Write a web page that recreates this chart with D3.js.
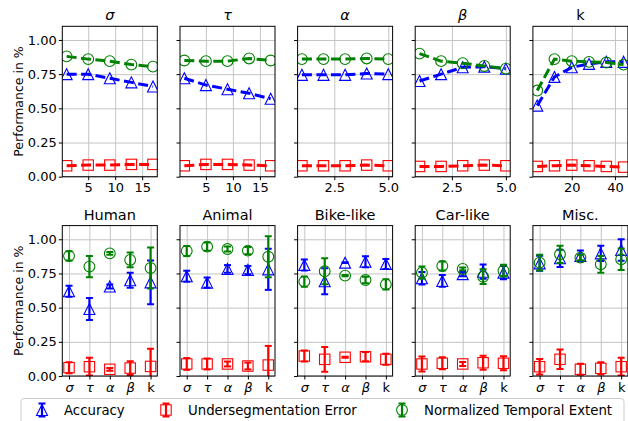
<!DOCTYPE html>
<meta charset="utf-8">
<style>
body { margin: 0; background: #fff; }
svg text { font-family: "DejaVu Sans", sans-serif; fill: #000; }
</style>
<body>
<div id="chart"></div>
<script src="https://d3js.org/d3.v7.min.js"></script>
<script>

// ---- data: top row (parameter sweeps) ----
var params = ["σ", "τ", "α", "β", "k"];

var xSigma = [1, 5, 9, 13, 17];
var xTau   = [1, 5, 9, 13, 17];
var xAlpha = [1, 2, 3, 4, 5];
var xBeta  = [1, 2, 3, 4, 5];
var xK     = [4, 12, 20, 28, 36, 44];

var accSigma = [0.75, 0.75, 0.72, 0.69, 0.66];
var accTau   = [0.72, 0.67, 0.64, 0.61, 0.57];
var accAlpha = [0.745, 0.745, 0.745, 0.755, 0.75];
var accBeta  = [0.70, 0.75, 0.80, 0.805, 0.79];
var accK     = [0.52, 0.73, 0.80, 0.825, 0.84, 0.84];

var usSigma = [0.08, 0.085, 0.085, 0.09, 0.09];
var usTau   = [0.08, 0.09, 0.09, 0.085, 0.08];
var usAlpha = [0.08, 0.08, 0.08, 0.085, 0.08];
var usBeta  = [0.075, 0.075, 0.08, 0.085, 0.08];
var usK     = [0.075, 0.08, 0.085, 0.08, 0.075, 0.07];

var nteSigma = [0.88, 0.86, 0.845, 0.82, 0.805];
var nteTau   = [0.85, 0.845, 0.845, 0.865, 0.85];
var nteAlpha = [0.86, 0.86, 0.86, 0.865, 0.86];
var nteBeta  = [0.90, 0.845, 0.83, 0.81, 0.79];
var nteK     = [0.63, 0.86, 0.845, 0.84, 0.835, 0.82];

var topTicks = [[5, 10, 15], [5, 10, 15], [2.5, 5.0], [2.5, 5.0], [20, 40]];

// ---- data: bottom row (per class, mean and std) ----
var groups = ["Human", "Animal", "Bike-like", "Car-like", "Misc."];

var accHuman  = [0.62, 0.49, 0.655, 0.70, 0.685];
var accAnimal = [0.73, 0.683, 0.783, 0.775, 0.78];
var accBike   = [0.812, 0.693, 0.829, 0.836, 0.819];
var accCar    = [0.715, 0.695, 0.745, 0.763, 0.756];
var accMisc   = [0.824, 0.861, 0.878, 0.897, 0.922];
var accErrHuman  = [0.04, 0.08, 0.015, 0.055, 0.16];
var accErrAnimal = [0.04, 0.037, 0.028, 0.03, 0.15];
var accErrBike   = [0.04, 0.095, 0.003, 0.04, 0.037];
var accErrCar    = [0.045, 0.043, 0.015, 0.052, 0.049];
var accErrMisc   = [0.055, 0.063, 0.04, 0.056, 0.079];

var usHuman  = [0.061, 0.068, 0.049, 0.058, 0.07];
var usAnimal = [0.088, 0.088, 0.088, 0.073, 0.08];
var usBike   = [0.146, 0.122, 0.137, 0.141, 0.122];
var usCar    = [0.088, 0.093, 0.088, 0.097, 0.093];
var usMisc   = [0.068, 0.122, 0.049, 0.056, 0.068];
var usErrHuman  = [0.04, 0.065, 0.01, 0.05, 0.13];
var usErrAnimal = [0.043, 0.04, 0.018, 0.025, 0.14];
var usErrBike   = [0.04, 0.091, 0.004, 0.034, 0.04];
var usErrCar    = [0.055, 0.044, 0.015, 0.052, 0.051];
var usErrMisc   = [0.057, 0.071, 0.04, 0.045, 0.065];

var nteHuman  = [0.878, 0.80, 0.897, 0.849, 0.79];
var nteAnimal = [0.914, 0.946, 0.929, 0.917, 0.872];
var nteBike   = [0.69, 0.766, 0.734, 0.702, 0.67];
var nteCar    = [0.756, 0.805, 0.783, 0.726, 0.77];
var nteMisc   = [0.829, 0.89, 0.866, 0.817, 0.854];
var nteErrHuman  = [0.034, 0.077, 0.01, 0.054, 0.15];
var nteErrAnimal = [0.037, 0.03, 0.018, 0.026, 0.15];
var nteErrBike   = [0.037, 0.095, 0.005, 0.024, 0.037];
var nteErrCar    = [0.045, 0.033, 0.01, 0.054, 0.043];
var nteErrMisc   = [0.057, 0.063, 0.02, 0.061, 0.079];

var yTicks = [0, 0.25, 0.5, 0.75, 1.0];
var legendLabels = ["Accuracy", "Undersegmentation Error", "Normalized Temporal Extent"];

// ---- layout ----
var W = 628, H = 421;
var PW = 95, PH = 150.4;
var lefts = [62.3, 180, 297.6, 415.2, 532.9];
var rowTops = [26.3, 225.6];
var colors = {acc: "blue", us: "red", nte: "green"};

var svg = d3.select("#chart").append("svg")
    .attr("width", W).attr("height", H);

var y = d3.scaleLinear().domain([0, 1.1]).range([PH, 0]);

function isGreek(s) { return s !== "k"; }

function drawMarker(g, type, color, cx, cy) {
  if (type === "acc") {
    var s = 5.5;
    g.append("path")
      .attr("d", "M" + cx + "," + (cy - s) + "L" + (cx - s) + "," + (cy + s) + "L" + (cx + s) + "," + (cy + s) + "Z")
      .attr("fill", "none").attr("stroke", color).attr("stroke-width", 1.1);
  } else if (type === "us") {
    var h = 5.2;
    g.append("rect")
      .attr("x", cx - h).attr("y", cy - h).attr("width", 2 * h).attr("height", 2 * h)
      .attr("fill", "none").attr("stroke", color).attr("stroke-width", 1.1);
  } else {
    g.append("circle").attr("cx", cx).attr("cy", cy).attr("r", 5.4)
      .attr("fill", "none").attr("stroke", color).attr("stroke-width", 1.1);
  }
}

function drawErr(g, color, cx, y0, y1) {
  g.append("line").attr("x1", cx).attr("x2", cx).attr("y1", y0).attr("y2", y1)
    .attr("stroke", color).attr("stroke-width", 2.2);
  [y0, y1].forEach(function(yy) {
    g.append("line").attr("x1", cx - 3.5).attr("x2", cx + 3.5).attr("y1", yy).attr("y2", yy)
      .attr("stroke", color).attr("stroke-width", 2);
  });
}

function makePanel(row, col, x, tickVals, tickFmt, title) {
  var g = svg.append("g")
      .attr("transform", "translate(" + lefts[col] + "," + rowTops[row] + ")");

  var id = "clip" + row + col;
  g.append("clipPath").attr("id", id)
    .append("rect").attr("width", PW).attr("height", PH);

  // grid
  g.append("g").attr("class", "grid")
    .call(d3.axisLeft(y).tickValues(yTicks).tickSize(-PW).tickFormat(""))
    .call(function(a) { a.select(".domain").remove(); });
  g.append("g").attr("class", "grid")
    .attr("transform", "translate(0," + PH + ")")
    .call(d3.axisBottom(x).tickValues(tickVals).tickSize(-PH).tickFormat(""))
    .call(function(a) { a.select(".domain").remove(); });
  g.selectAll(".grid line").attr("stroke", "#c4c4c4").attr("stroke-width", 1);

  // y axis
  var ya = g.append("g")
    .call(d3.axisLeft(y).tickValues(yTicks).tickSize(3.5).tickPadding(2)
      .tickFormat(col === 0 ? d3.format(".2f") : ""));
  ya.select(".domain").remove();
  ya.selectAll("text").attr("font-size", 13).attr("font-family", "DejaVu Sans");

  // x axis
  var xa = g.append("g").attr("transform", "translate(0," + PH + ")")
    .call(d3.axisBottom(x).tickValues(tickVals).tickSize(3.5).tickPadding(3).tickFormat(tickFmt));
  xa.select(".domain").remove();
  xa.selectAll("text").attr("font-size", 13).attr("font-family", "DejaVu Sans")
    .attr("font-style", function(d) { var t = tickFmt(d); return isGreek(t) && isNaN(+t) ? "italic" : null; });

  // title
  g.append("text").attr("x", PW / 2).attr("y", -6)
    .attr("text-anchor", "middle").attr("font-size", 14.5)
    .attr("font-style", isGreek(title) && title.length === 1 ? "italic" : null)
    .text(title);

  var plot = g.append("g").attr("clip-path", "url(#" + id + ")");

  // spines drawn after data
  return {g: g, plot: plot};
}

function drawSpines(g) {
  g.append("rect").attr("width", PW).attr("height", PH)
    .attr("fill", "none").attr("stroke", "#000").attr("stroke-width", 1);
}

// ---- top row ----
var topX = [xSigma, xTau, xAlpha, xBeta, xK];
var topAcc = [accSigma, accTau, accAlpha, accBeta, accK];
var topUs = [usSigma, usTau, usAlpha, usBeta, usK];
var topNte = [nteSigma, nteTau, nteAlpha, nteBeta, nteK];

params.forEach(function(p, i) {
  var xs = topX[i];
  var ext = d3.extent(xs), pad = (ext[1] - ext[0]) * 0.05;
  var x = d3.scaleLinear().domain([ext[0] - pad, ext[1] + pad]).range([0, PW]);
  var fmt = (i === 2 || i === 3) ? d3.format(".1f") : d3.format("d");
  var pnl = makePanel(0, i, x, topTicks[i], fmt, p);

  [["acc", topAcc[i]], ["us", topUs[i]], ["nte", topNte[i]]].forEach(function(s) {
    var key = s[0], vals = s[1];
    var pts = xs.map(function(v, j) { return [x(v), y(vals[j])]; });
    pnl.plot.append("path")
      .attr("d", d3.line()(pts))
      .attr("fill", "none").attr("stroke", colors[key])
      .attr("stroke-width", 3).attr("stroke-dasharray", "10,4.5");
    pts.forEach(function(pt) { drawMarker(pnl.plot, key, colors[key], pt[0], pt[1]); });
  });
  drawSpines(pnl.g);
});

// ---- bottom row ----
var botAcc = [accHuman, accAnimal, accBike, accCar, accMisc];
var botAccErr = [accErrHuman, accErrAnimal, accErrBike, accErrCar, accErrMisc];
var botUs = [usHuman, usAnimal, usBike, usCar, usMisc];
var botUsErr = [usErrHuman, usErrAnimal, usErrBike, usErrCar, usErrMisc];
var botNte = [nteHuman, nteAnimal, nteBike, nteCar, nteMisc];
var botNteErr = [nteErrHuman, nteErrAnimal, nteErrBike, nteErrCar, nteErrMisc];

groups.forEach(function(grp, i) {
  var x = d3.scalePoint().domain(params).range([0, PW]).padding(0.33);
  var pnl = makePanel(1, i, x, params, function(d) { return d; }, grp);

  [["acc", botAcc[i], botAccErr[i]], ["us", botUs[i], botUsErr[i]], ["nte", botNte[i], botNteErr[i]]]
    .forEach(function(s) {
      var key = s[0], m = s[1], e = s[2];
      params.forEach(function(p, j) {
        var cx = x(p);
        drawErr(pnl.plot, colors[key], cx, y(m[j] - e[j]), y(m[j] + e[j]));
        drawMarker(pnl.plot, key, colors[key], cx, y(m[j]));
      });
    });
  drawSpines(pnl.g);
});

// ---- y labels ----
rowTops.forEach(function(t) {
  svg.append("text")
    .attr("transform", "translate(18," + (t + PH / 2) + ") rotate(-90)")
    .attr("text-anchor", "middle").attr("dominant-baseline", "central")
    .attr("font-size", 12.5)
    .text("Performance in %");
});

// ---- legend ----
var leg = svg.append("g");
leg.append("rect").attr("x", 21).attr("y", 398.5).attr("width", 603).attr("height", 32)
  .attr("rx", 3).attr("fill", "#fff").attr("fill-opacity", 0.8)
  .attr("stroke", "#ccc").attr("stroke-width", 1);

var legX = [42, 166, 402];
var legKeys = ["acc", "us", "nte"];
legKeys.forEach(function(k, i) {
  var cy = 410;
  drawErr(leg, colors[k], legX[i], cy - 6.5, cy + 6.5);
  drawMarker(leg, k, colors[k], legX[i], cy);
  leg.append("text").attr("x", legX[i] + 22).attr("y", cy)
    .attr("dominant-baseline", "central").attr("font-size", 13.3)
    .text(legendLabels[i]);
});

</script>
</body>
